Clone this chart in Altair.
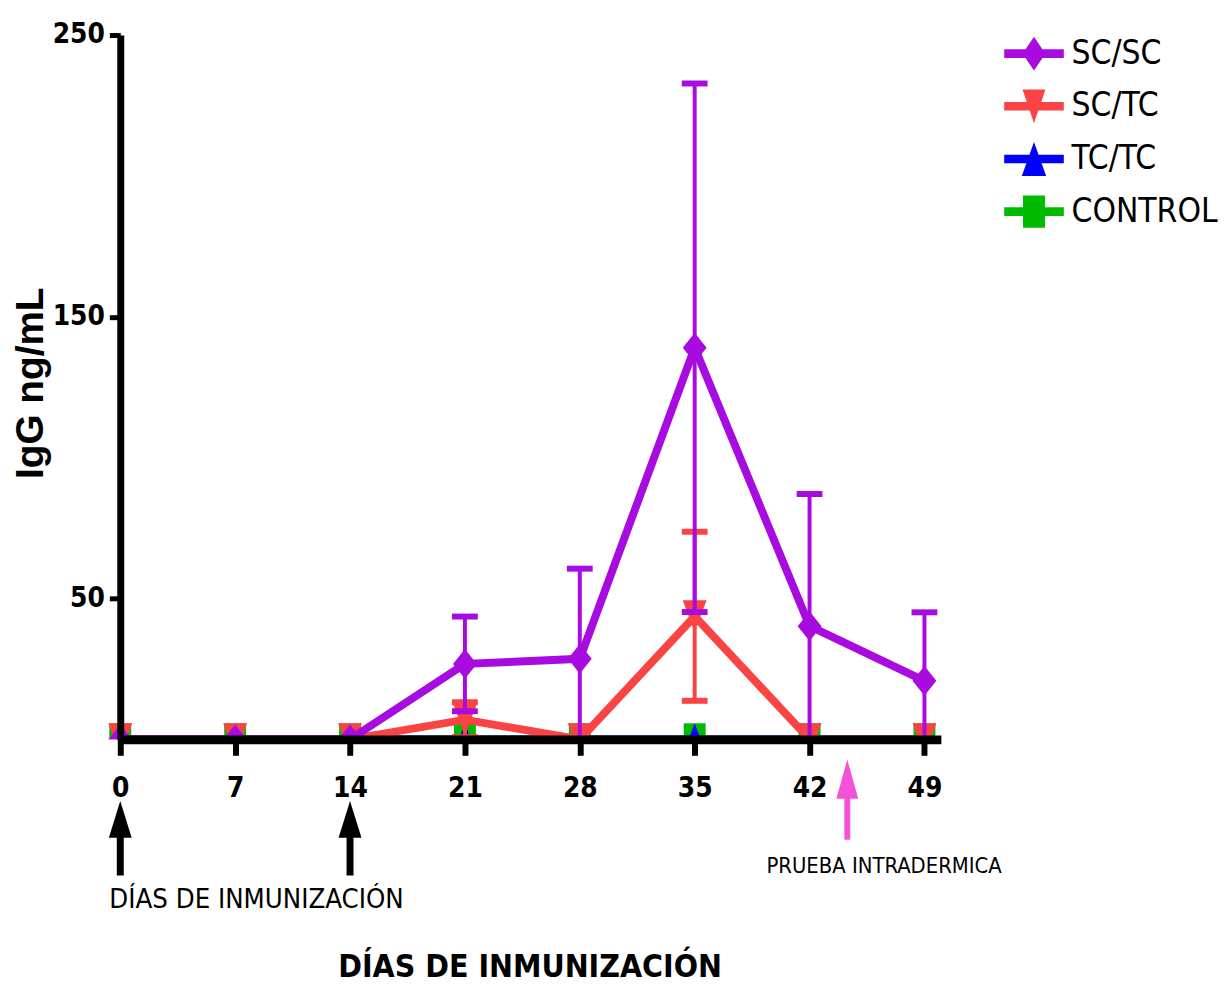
import altair as alt
import pandas as pd

# ---------------- data ----------------
days = [0, 7, 14, 21, 28, 35, 42, 49]
series_names = ["SC/SC", "SC/TC", "TC/TC", "CONTROL"]

sc_sc_mean = [0, 0, 0, 26.8, 28.6, 139.0, 40.2, 20.8]
sc_sc_sd = [0, 0, 0, 16.8, 32.0, 93.8, 46.9, 24.3]
sc_tc_mean = [0, 0, 0, 7.0, 0, 43.7, 0, 0]
sc_tc_sd = [0, 0, 0, 6.2, 0, 30.0, 0, 0]
tc_tc_mean = [0, 0, 0, 0, 0, 0, 0, 0]
tc_tc_sd = [0, 0, 0, 0, 0, 0, 0, 0]
control_mean = [0, 0, 0, 0, 0, 0, 0, 0]
control_sd = [0, 0, 0, 0, 0, 0, 0, 0]

y_ticks = [50, 150, 250]
arrow_days = [0, 14]
test_day = [44.3]

# ---------------- styles ----------------
colors = ["#a80be0", "#fa4444", "#0000ff", "#00bb00"]
marker_paths = [
    "M0,-1.25L1,0L0,1.25L-1,0Z",
    "M-1,-1.35L1,-1.35L0,1.35Z",
    "M0,-1.35L1,1.35L-1,1.35Z",
    "M-0.92,-1.35H0.92V1.35H-0.92Z",
]
bar = "M-2.5,-0.36H2.5V0.36H-2.5Z "
legend_paths = [
    bar + "M0,-1.42L0.96,0L0,1.42L-0.96,0Z",
    bar + "M-0.96,-1.42L0.96,-1.42L0,1.42Z",
    bar + "M0,-1.42L1.02,1.42L-1.02,1.42Z",
    bar + "M-0.92,-1.35H0.92V1.35H-0.92Z",
]

FONT_N = "DejaVu Sans Condensed, Liberation Sans, sans-serif"
FONT_B = "Liberation Sans, Arial, sans-serif"

means = dict(zip(series_names, [sc_sc_mean, sc_tc_mean, tc_tc_mean, control_mean]))
sds = dict(zip(series_names, [sc_sc_sd, sc_tc_sd, tc_tc_sd, control_sd]))

rows = []
for s in series_names:
    for d, m, sd in zip(days, means[s], sds[s]):
        rows.append({"day": d, "series": s, "mean": m, "sd": sd, "lo": m - sd, "hi": m + sd})
df = pd.DataFrame(rows)

xscale = alt.Scale(domain=[0, 50], nice=False, zero=False)
yscale = alt.Scale(domain=[0, 250], nice=False, clamp=True)

x_axis = alt.Axis(
    values=days, format="d", title="DÍAS DE INMUNIZACIÓN",
    titleFont=FONT_N, titleFontWeight="bold", titleFontSize=32, titleColor="black",
    titleX=412, titleY=229, titleAlign="center", titleBaseline="middle",
    labelFont=FONT_N, labelFontSize=28, labelFontWeight="bold", labelColor="black",
    labelPadding=19, labelAngle=0, labelFlush=False, labelOverlap=False,
    tickSize=16, tickWidth=6, tickColor="black",
    domainColor="black", domainWidth=9, grid=False, zindex=1,
)
y_axis = alt.Axis(
    values=y_ticks, title="IgG ng/mL",
    titleFont=FONT_B, titleFontWeight="bold", titleFontSize=39, titleColor="black",
    titleX=-90, titleY=350, titleAngle=270, titleAlign="center", titleBaseline="middle",
    labelFont=FONT_N, labelFontSize=28, labelFontWeight="bold", labelColor="black",
    labelPadding=5, labelFlush=False, labelOverlap=False,
    tickSize=11, tickWidth=5, tickColor="black",
    domainColor="black", domainWidth=7, grid=False, zindex=1,
)

X = alt.X("day:Q", scale=xscale, axis=x_axis)


def Y(field):
    return alt.Y(field, type="quantitative", scale=yscale, axis=y_axis)


base = alt.Chart(df)
layers = []
for i in reversed(range(len(series_names))):
    s = series_names[i]
    c = colors[i]
    sub = base.transform_filter(alt.datum.series == s)
    layers.append(sub.mark_line(strokeWidth=8, color=c).encode(x=X, y=Y("mean")))
    if any(v > 0 for v in sds[s]):
        eb = sub.transform_filter(alt.datum.sd > 0)
        layers.append(eb.mark_rule(strokeWidth=4, color=c).encode(x=X, y=Y("lo"), y2="hi"))
        layers.append(eb.mark_tick(orient="horizontal", size=26, thickness=6, color=c, opacity=1)
                      .encode(x=X, y=Y("hi")))
        layers.append(eb.mark_tick(orient="horizontal", size=26, thickness=6, color=c, opacity=1)
                      .encode(x=X, y=Y("lo")))
    layers.append(sub.mark_point(filled=True, size=576, opacity=1, color=c, strokeWidth=0)
                  .encode(x=X, y=Y("mean"), shape=alt.value(marker_paths[i])))

# invisible carrier of the legend
leg = dict(
    title=None, orient="none", legendX=903, legendY=2,
    symbolSize=576, symbolStrokeWidth=0, symbolOpacity=1,
    labelFont=FONT_N, labelFontSize=33.5, labelColor="black", labelLimit=400,
    labelOffset=21, rowPadding=18, padding=0,
)
layers.append(
    base.mark_point(filled=True, opacity=0).encode(
        x=X, y=Y("mean"),
        color=alt.Color("series:N", scale=alt.Scale(domain=series_names, range=colors),
                        legend=alt.Legend(**leg)),
        shape=alt.Shape("series:N", scale=alt.Scale(domain=series_names, range=legend_paths),
                        legend=alt.Legend(**leg)),
    )
)

# white mask hiding what falls below the zero line (as in the original)
mask_df = pd.DataFrame({"v": [0]})
layers.append(
    alt.Chart(mask_df).mark_rect(color="white").encode(
        x=alt.value(-40), x2=alt.value(860), y=alt.Y("v:Q", scale=yscale, axis=y_axis), y2=alt.value(731)
    )
)

# annotation arrows
arr_df = pd.DataFrame({"day": arrow_days})
layers.append(alt.Chart(arr_df).mark_rule(strokeWidth=7, color="black").encode(
    x=X, y=alt.value(803), y2=alt.value(846)))
layers.append(alt.Chart(arr_df).mark_point(filled=True, size=529, opacity=1, color="black", strokeWidth=0).encode(
    x=X, y=alt.value(789.5), shape=alt.value("M0,-1.6L1,1.6L-1,1.6Z")))

pink_df = pd.DataFrame({"day": test_day})
layers.append(alt.Chart(pink_df).mark_rule(strokeWidth=6, color="#f452d8").encode(
    x=X, y=alt.value(766), y2=alt.value(810)))
layers.append(alt.Chart(pink_df).mark_point(filled=True, size=484, opacity=1, color="#f452d8", strokeWidth=0).encode(
    x=X, y=alt.value(749), shape=alt.value("M0,-1.8L1,1.8L-1,1.8Z")))
layers.append(alt.Chart(pink_df).mark_text(text="PRUEBA INTRADERMICA", font=FONT_N, fontSize=22,
                                           color="black", align="center", baseline="middle", dx=37).encode(
    x=X, y=alt.value(836)))

day0_df = pd.DataFrame({"day": [arrow_days[0]]})
layers.append(alt.Chart(day0_df).mark_text(text="DÍAS DE INMUNIZACIÓN", font=FONT_N, fontSize=27.5,
                                           color="black", align="left", baseline="middle", dx=-11).encode(
    x=X, y=alt.value(871)))

chart = alt.layer(*layers).properties(
    width=826, height=709,
    padding={"left": 113, "top": 24, "right": 284, "bottom": 243},
    autosize=alt.AutoSizeParams(type="none"),
).configure_view(stroke=None)

chart.save("out.html", embed_options={"renderer": "svg", "actions": False})
